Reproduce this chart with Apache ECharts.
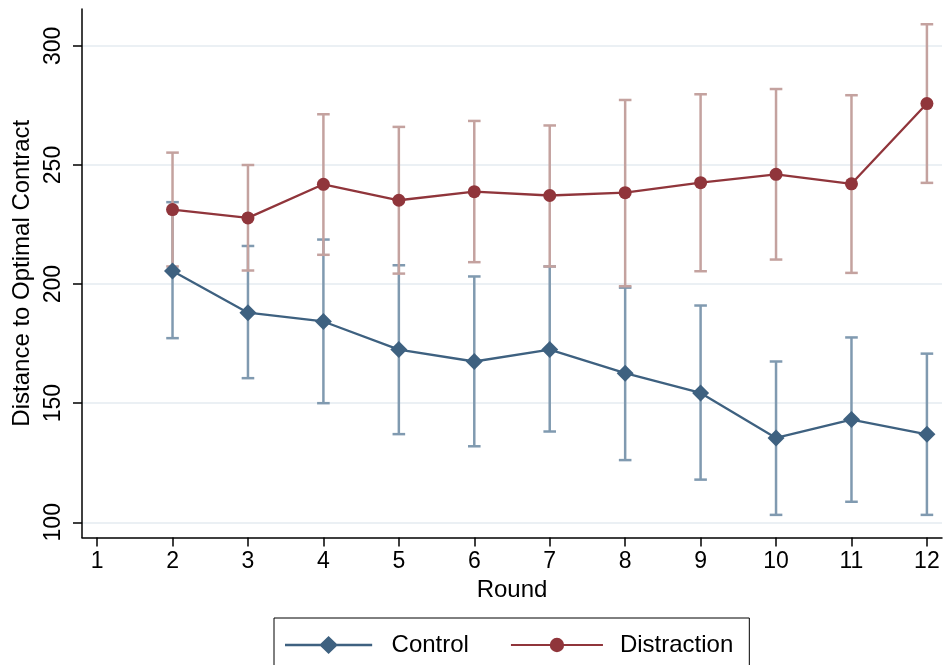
<!DOCTYPE html>
<html><head><meta charset="utf-8">
<script src="https://cdn.jsdelivr.net/npm/echarts@6/dist/echarts.min.js"></script>
<style>html,body{margin:0;padding:0;background:#fff}#c{width:945px;height:665px}</style>
</head><body><div id="c"></div><script>
const rounds = [2,3,4,5,6,7,8,9,10,11,12];
const xTicks = [1,2,3,4,5,6,7,8,9,10,11,12];
const yTicks = [100,150,200,250,300];
const controlMean = [205.5,188.0,184.3,172.5,167.5,172.5,162.6,154.3,135.4,143.1,136.9];
const controlLow  = [177.3,160.5,150.0,137.0,131.9,138.1,126.1,117.9,103.1,108.6,103.1];
const controlHigh = [234.4,216.0,218.7,207.9,203.2,207.4,198.5,191.0,167.5,177.6,170.8];
const distractionMean = [231.3,227.8,241.9,235.2,238.8,237.2,238.4,242.6,246.1,242.1,275.8];
const distractionLow  = [207.4,205.7,212.3,204.4,209.2,207.4,199.1,205.4,210.3,204.7,242.5];
const distractionHigh = [255.2,250.0,271.3,266.0,268.5,266.6,277.3,279.7,281.9,279.3,309.1];

const FONT = "'Liberation Sans', Arial, Helvetica, sans-serif";
const C_CTRL = '#3e6180', C_CTRL_CI = '#809ab0';
const C_DIST = '#90353b', C_DIST_CI = '#c4a29f';
const DIAMOND_LINE_ICON = 'path://M0,8.8L37.5,8.8L46,0.5L54.5,8.8L92,8.8L92,11.2L54.5,11.2L46,19.5L37.5,11.2L0,11.2Z';

function capRenderer(color) {
  return function (params, api) {
    const x = api.value(0), lo = api.value(1), hi = api.value(2);
    const pLo = api.coord([x, lo]), pHi = api.coord([x, hi]);
    const w = 6.3;
    const style = { stroke: color, lineWidth: 2.5, fill: null };
    return { type: 'group', children: [
      { type: 'line', shape: { x1: pLo[0], y1: pLo[1], x2: pHi[0], y2: pHi[1] }, style: style },
      { type: 'line', shape: { x1: pLo[0] - w, y1: pLo[1], x2: pLo[0] + w, y2: pLo[1] }, style: style },
      { type: 'line', shape: { x1: pHi[0] - w, y1: pHi[1], x2: pHi[0] + w, y2: pHi[1] }, style: style }
    ]};
  };
}

const chart = echarts.init(document.getElementById('c'), null, { renderer: 'canvas' });
chart.setOption({
  animation: false,
  backgroundColor: '#fff',
  textStyle: { fontFamily: FONT },
  grid: { left: 82, right: 3, top: 9, bottom: 127.5 },
  legend: {
    data: [{ name: 'Control', icon: DIAMOND_LINE_ICON }, 'Distraction'],
    left: 274, top: 618,
    padding: [15, 16, 16, 11],
    itemWidth: 92, itemHeight: 18, itemGap: 41,
    borderColor: '#000', borderWidth: 1,
    textStyle: { fontSize: 24, color: '#000', fontFamily: FONT, padding: [0, 0, 0, 12] }
  },
  xAxis: {
    type: 'value', min: 0.8, max: 12.2,
    name: 'Round', nameLocation: 'middle', nameGap: 38,
    nameTextStyle: { fontSize: 24, color: '#000', fontFamily: FONT },
    axisLine: { show: true, lineStyle: { color: '#000', width: 1.5 } },
    axisTick: { show: true, customValues: xTicks, length: 9, lineStyle: { color: '#000', width: 1.5 } },
    axisLabel: { customValues: xTicks, fontSize: 23, color: '#000', margin: 13, fontFamily: FONT },
    splitLine: { show: false }
  },
  yAxis: {
    type: 'value', min: 93.6, max: 315.5,
    name: 'Distance to Optimal Contract', nameLocation: 'middle', nameGap: 43,
    nameTextStyle: { fontSize: 24, color: '#000', fontFamily: FONT },
    axisLine: { show: true, lineStyle: { color: '#000', width: 1.5 } },
    axisTick: { show: true, customValues: yTicks, length: 9, lineStyle: { color: '#000', width: 1.5 } },
    axisLabel: { customValues: yTicks, rotate: 90, fontSize: 23, color: '#000', margin: 17, fontFamily: FONT },
    splitLine: { show: true, lineStyle: { color: '#ebf0f4', width: 2 } }
  },
  series: [
    {
      type: 'custom', name: 'Control CI', renderItem: capRenderer(C_CTRL_CI),
      encode: { x: 0, y: [1, 2] }, z: 1,
      data: rounds.map((r, i) => [r, controlLow[i], controlHigh[i]])
    },
    {
      type: 'custom', name: 'Distraction CI', renderItem: capRenderer(C_DIST_CI),
      encode: { x: 0, y: [1, 2] }, z: 1,
      data: rounds.map((r, i) => [r, distractionLow[i], distractionHigh[i]])
    },
    {
      type: 'line', name: 'Control', z: 3,
      data: rounds.map((r, i) => [r, controlMean[i]]),
      symbol: 'diamond', symbolSize: 17,
      lineStyle: { color: C_CTRL, width: 2.3 },
      itemStyle: { color: C_CTRL, borderWidth: 0 }
    },
    {
      type: 'line', name: 'Distraction', z: 3,
      data: rounds.map((r, i) => [r, distractionMean[i]]),
      symbol: 'circle', symbolSize: 13,
      lineStyle: { color: C_DIST, width: 2.3 },
      itemStyle: { color: C_DIST, borderWidth: 0 }
    }
  ]
});
</script></body></html>
